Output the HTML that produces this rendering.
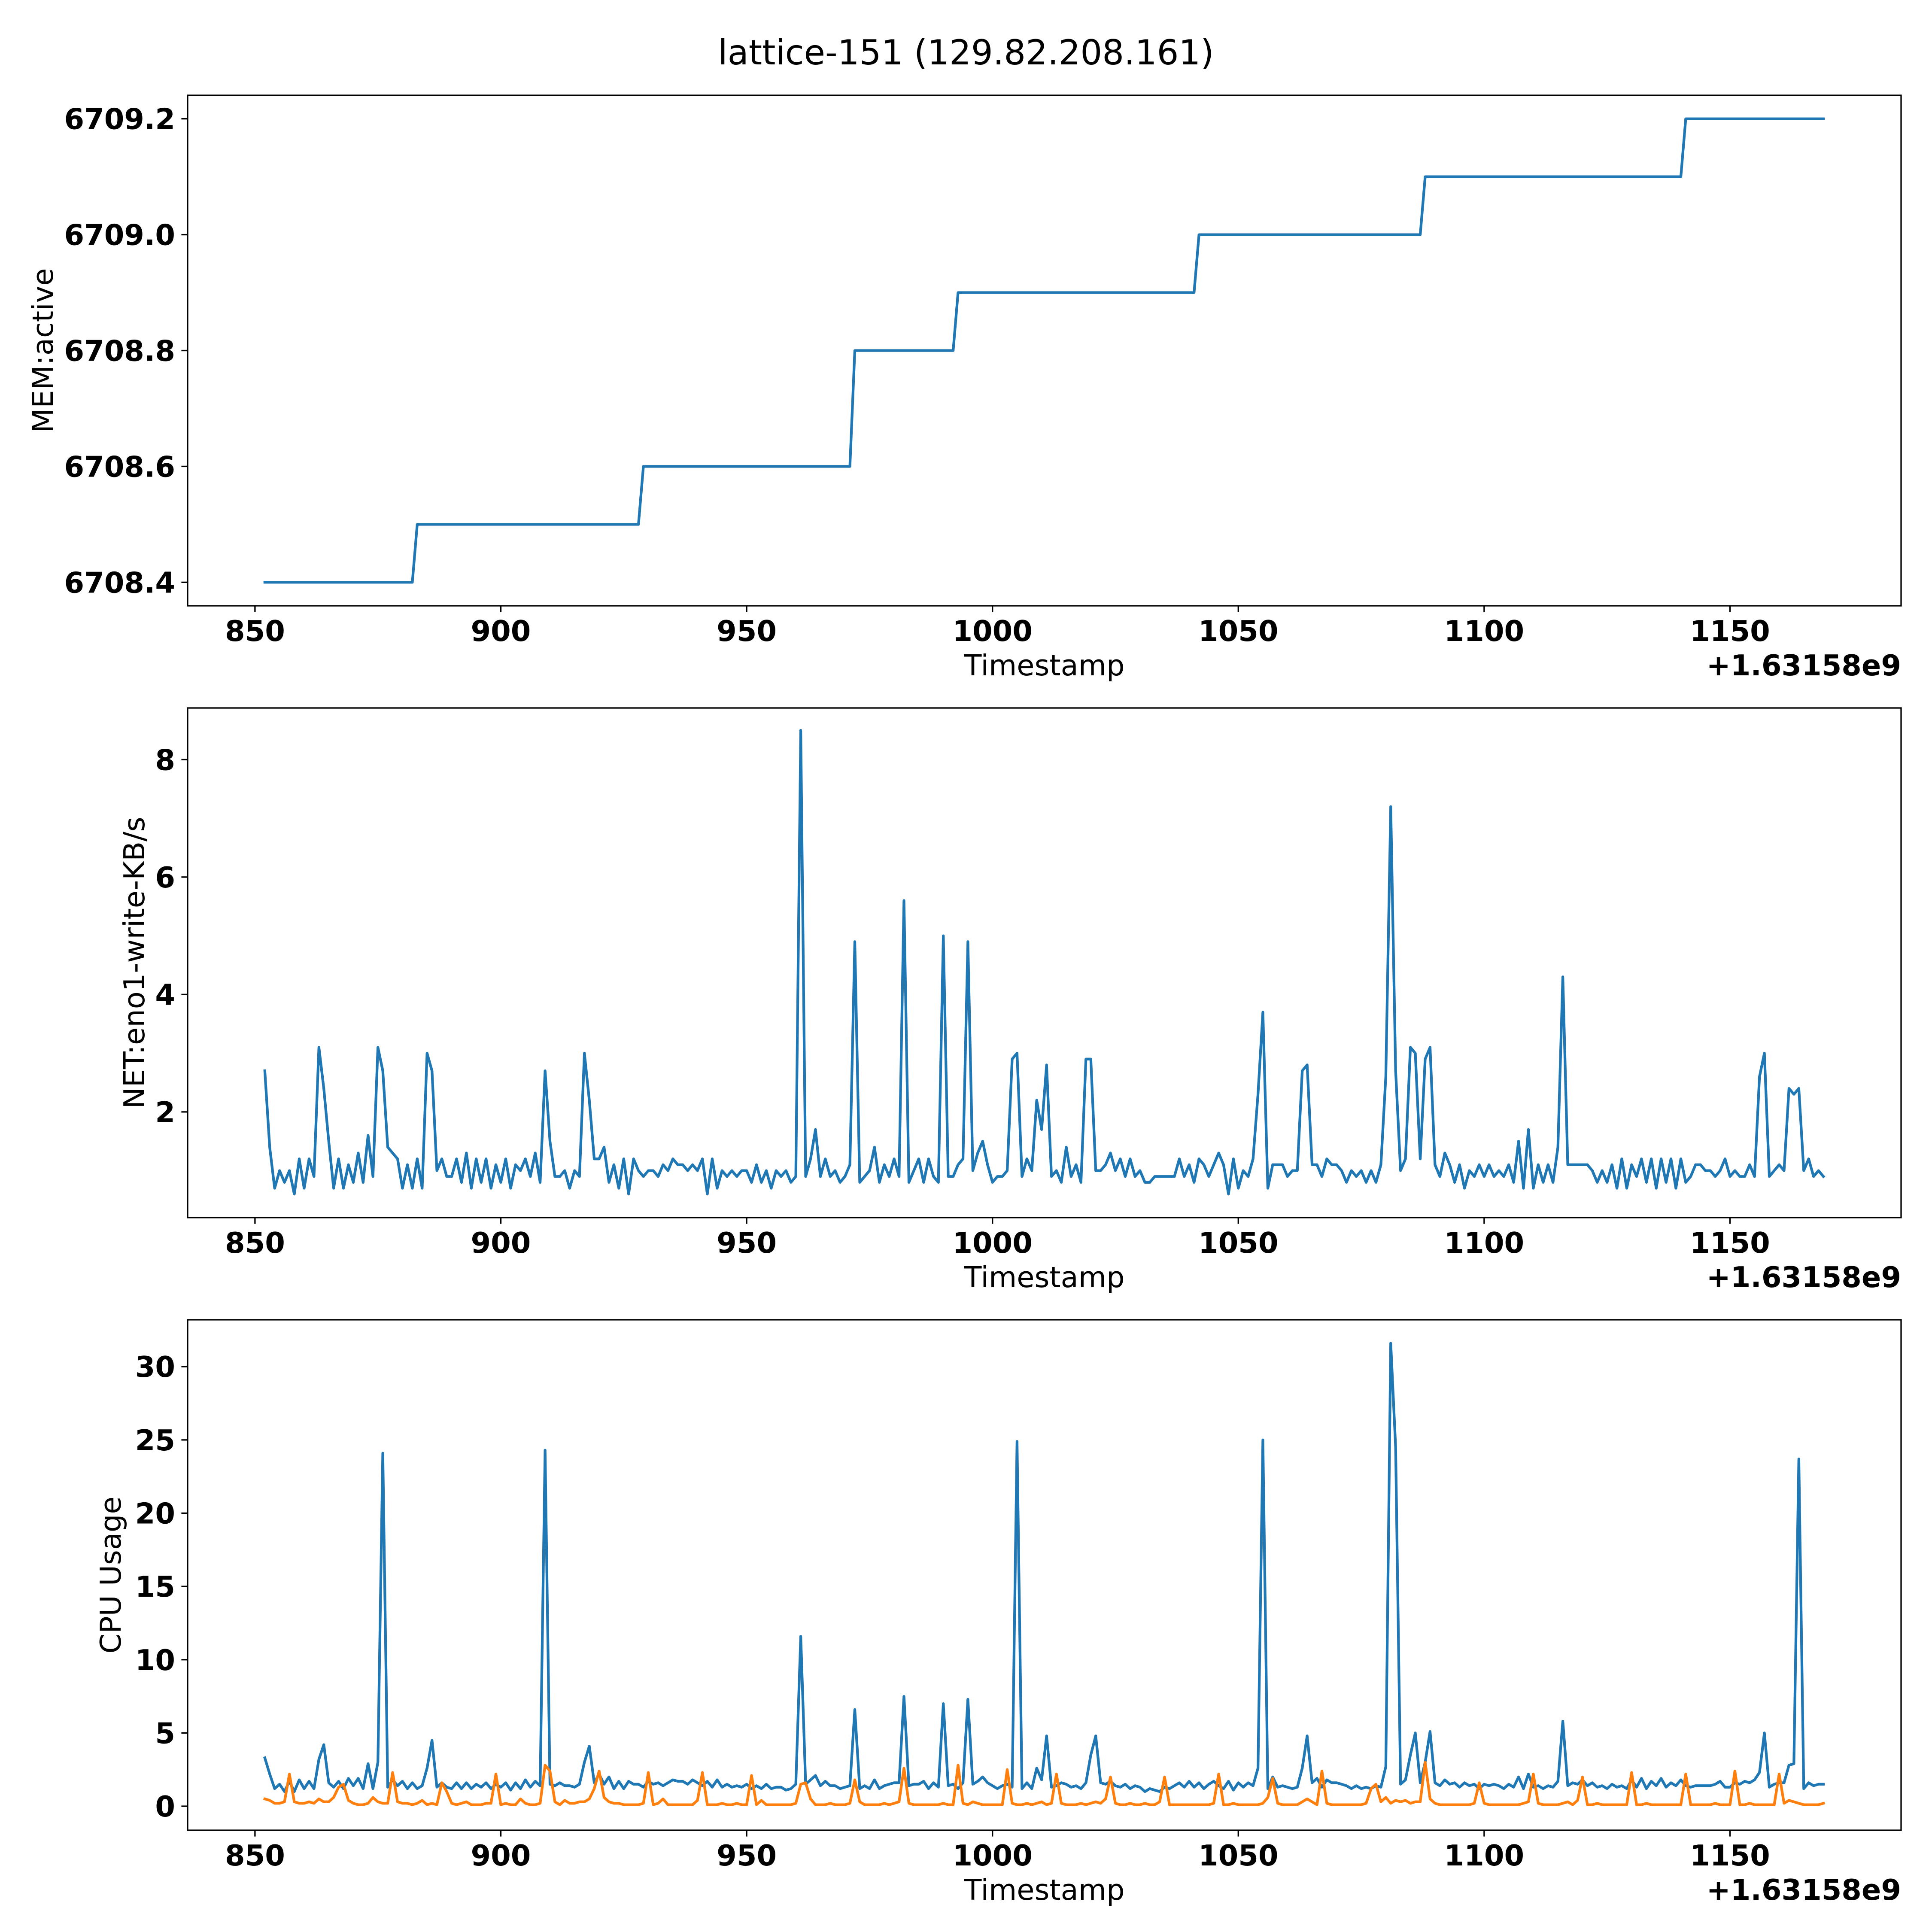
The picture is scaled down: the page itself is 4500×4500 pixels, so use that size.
<!DOCTYPE html>
<html><head><meta charset="utf-8"><style>
html,body{margin:0;padding:0;background:#fff;}
svg{display:block;font-family:"DejaVu Sans","Liberation Sans",sans-serif;}
</style></head><body>
<svg id="fig" width="4500" height="4500" viewBox="0 0 4500 4500" xmlns="http://www.w3.org/2000/svg">
<rect width="4500" height="4500" fill="#fff"/>
<text x="2250" y="150" font-size="80" text-anchor="middle">lattice-151 (129.82.208.161)</text>
</svg>
<script>
// ---- data ----
const memTimes = [852,882,883,928,929,971,972,992,993,1041,1042,1087,1088,1140,1141,1169];
const memValues = [6708.4,6708.4,6708.5,6708.5,6708.6,6708.6,6708.8,6708.8,6708.9,6708.9,6709.0,6709.0,6709.1,6709.1,6709.2,6709.2];
const startTime = 852;
const netValues = [2.7,1.4,0.7,1.0,0.8,1.0,0.6,1.2,0.7,1.2,
0.9,3.1,2.4,1.5,0.7,1.2,0.7,1.1,0.8,1.3,
0.8,1.6,0.9,3.1,2.7,1.4,1.3,1.2,0.7,1.1,
0.7,1.2,0.7,3.0,2.7,1.0,1.2,0.9,0.9,1.2,
0.8,1.3,0.7,1.2,0.8,1.2,0.7,1.1,0.8,1.2,
0.7,1.1,1.0,1.2,0.9,1.3,0.8,2.7,1.5,0.9,
0.9,1.0,0.7,1.0,0.9,3.0,2.2,1.2,1.2,1.4,
0.8,1.1,0.7,1.2,0.6,1.2,1.0,0.9,1.0,1.0,
0.9,1.1,1.0,1.2,1.1,1.1,1.0,1.1,1.0,1.2,
0.6,1.2,0.7,1.0,0.9,1.0,0.9,1.0,1.0,0.8,
1.1,0.8,1.0,0.7,1.0,0.9,1.0,0.8,0.9,8.5,
0.9,1.2,1.7,0.9,1.2,0.9,1.0,0.8,0.9,1.1,
4.9,0.8,0.9,1.0,1.4,0.8,1.1,0.9,1.2,0.9,
5.6,0.8,1.0,1.2,0.8,1.2,0.9,0.8,5.0,0.9,
0.9,1.1,1.2,4.9,1.0,1.3,1.5,1.1,0.8,0.9,
0.9,1.0,2.9,3.0,0.9,1.2,1.0,2.2,1.7,2.8,
0.9,1.0,0.8,1.4,0.9,1.1,0.8,2.9,2.9,1.0,
1.0,1.1,1.3,1.0,1.2,0.9,1.2,0.9,1.0,0.8,
0.8,0.9,0.9,0.9,0.9,0.9,1.2,0.9,1.1,0.8,
1.2,1.1,0.9,1.1,1.3,1.1,0.6,1.2,0.7,1.0,
0.9,1.2,2.3,3.7,0.7,1.1,1.1,1.1,0.9,1.0,
1.0,2.7,2.8,1.1,1.1,0.9,1.2,1.1,1.1,1.0,
0.8,1.0,0.9,1.0,0.8,1.0,0.8,1.1,2.6,7.2,
2.7,1.0,1.2,3.1,3.0,1.2,2.9,3.1,1.1,0.9,
1.3,1.1,0.8,1.1,0.7,1.0,0.9,1.1,0.9,1.1,
0.9,1.0,0.9,1.1,0.8,1.5,0.7,1.7,0.7,1.1,
0.8,1.1,0.8,1.4,4.3,1.1,1.1,1.1,1.1,1.1,
1.0,0.8,1.0,0.8,1.1,0.7,1.2,0.7,1.1,0.9,
1.2,0.8,1.2,0.7,1.2,0.8,1.2,0.7,1.2,0.8,
0.9,1.1,1.1,1.0,1.0,0.9,1.0,1.2,0.9,1.0,
0.9,0.9,1.1,0.9,2.6,3.0,0.9,1.0,1.1,1.0,
2.4,2.3,2.4,1.0,1.2,0.9,1.0,0.9];
const cpuValues = [3.3,2.2,1.2,1.5,1.0,1.7,1.0,1.8,1.2,1.7,
1.2,3.2,4.2,1.6,1.3,1.7,1.2,1.9,1.4,1.9,
1.2,2.9,1.2,3.0,24.1,1.3,1.8,1.4,1.7,1.2,
1.6,1.2,1.4,2.6,4.5,1.3,1.6,1.3,1.2,1.6,
1.2,1.6,1.2,1.5,1.3,1.6,1.2,1.5,1.3,1.6,
1.1,1.6,1.2,1.8,1.3,1.7,1.4,24.3,1.5,1.4,
1.6,1.4,1.4,1.3,1.5,3.0,4.1,1.6,2.2,1.5,
2.0,1.2,1.7,1.2,1.7,1.5,1.5,1.3,1.7,1.5,
1.6,1.4,1.6,1.8,1.7,1.7,1.5,1.8,1.6,1.4,
1.7,1.3,1.8,1.3,1.5,1.3,1.4,1.3,1.5,1.2,
1.4,1.2,1.5,1.2,1.3,1.3,1.1,1.2,1.5,11.6,
1.5,1.8,2.1,1.4,1.7,1.4,1.4,1.2,1.3,1.4,
6.6,1.2,1.4,1.2,1.8,1.2,1.4,1.5,1.6,1.6,
7.5,1.4,1.5,1.5,1.7,1.2,1.6,1.3,7.0,1.4,
1.5,1.2,1.6,7.3,1.5,1.7,2.0,1.6,1.4,1.2,
1.4,1.5,1.3,24.9,1.2,1.6,1.2,2.6,1.8,4.8,
1.3,1.4,1.6,1.5,1.3,1.4,1.2,1.6,3.5,4.8,
1.6,1.5,1.7,1.4,1.3,1.5,1.2,1.4,1.3,1.0,
1.2,1.1,1.0,1.3,1.2,1.4,1.6,1.3,1.7,1.3,
1.6,1.2,1.5,1.7,1.4,1.2,1.7,1.1,1.6,1.3,
1.6,1.4,2.6,25.0,1.2,2.0,1.3,1.4,1.3,1.2,
1.3,2.6,4.8,1.6,1.9,1.3,1.8,1.6,1.6,1.5,
1.4,1.2,1.4,1.2,1.3,1.2,1.4,1.3,2.7,31.6,
24.5,1.5,1.8,3.5,5.0,1.6,3.0,5.1,1.6,1.4,
1.8,1.5,1.6,1.3,1.6,1.4,1.5,1.2,1.5,1.4,
1.5,1.4,1.2,1.5,1.3,2.0,1.2,2.2,1.3,1.4,
1.2,1.4,1.3,1.7,5.8,1.4,1.6,1.5,1.8,1.4,
1.6,1.3,1.4,1.2,1.5,1.3,1.4,1.2,1.8,1.3,
1.9,1.2,1.7,1.4,1.9,1.3,1.6,1.4,1.8,1.4,
1.3,1.4,1.4,1.4,1.4,1.5,1.7,1.3,1.3,1.6,
1.5,1.7,1.6,1.8,2.3,5.0,1.3,1.5,1.6,1.6,
2.8,2.9,23.7,1.2,1.6,1.4,1.5,1.5];
const cpuSecondValues = [0.5,0.4,0.2,0.2,0.3,2.2,0.3,0.2,0.2,0.3,
0.2,0.5,0.3,0.3,0.6,1.3,1.5,0.4,0.2,0.1,
0.1,0.2,0.6,0.3,0.2,0.2,2.3,0.3,0.2,0.2,
0.1,0.2,0.4,0.1,0.2,0.1,1.6,1.0,0.2,0.1,
0.2,0.3,0.1,0.1,0.1,0.2,0.2,2.2,0.1,0.2,
0.1,0.1,0.5,0.2,0.1,0.1,0.2,2.8,2.4,0.3,
0.1,0.4,0.2,0.2,0.3,0.3,0.5,1.2,2.4,0.6,
0.3,0.2,0.2,0.1,0.1,0.1,0.1,0.2,2.3,0.1,
0.2,0.5,0.1,0.1,0.1,0.1,0.1,0.1,0.4,2.3,
0.1,0.1,0.1,0.2,0.1,0.1,0.2,0.1,0.1,2.1,
0.1,0.4,0.1,0.1,0.1,0.1,0.1,0.1,0.2,1.5,
1.6,0.5,0.1,0.1,0.1,0.2,0.1,0.1,0.1,0.2,
1.8,0.3,0.1,0.1,0.1,0.1,0.2,0.1,0.2,0.3,
2.6,0.2,0.1,0.1,0.1,0.1,0.1,0.1,0.2,0.1,
0.1,2.8,0.2,0.1,0.3,0.2,0.1,0.1,0.1,0.1,
0.1,2.5,0.2,0.1,0.1,0.2,0.1,0.2,0.3,0.1,
0.2,2.2,0.2,0.1,0.1,0.1,0.2,0.1,0.2,0.3,
0.2,0.5,2.0,0.2,0.1,0.1,0.2,0.1,0.1,0.2,
0.1,0.1,0.3,2.0,0.1,0.1,0.1,0.1,0.1,0.1,
0.1,0.1,0.1,0.2,2.2,0.1,0.1,0.2,0.1,0.1,
0.1,0.1,0.1,0.2,0.6,1.9,0.2,0.1,0.1,0.1,
0.1,0.3,0.5,0.3,0.1,2.4,0.2,0.1,0.1,0.1,
0.1,0.1,0.1,0.1,0.2,1.2,1.5,0.3,0.6,0.2,
0.4,0.3,0.4,0.2,0.3,0.3,3.0,0.5,0.2,0.1,
0.1,0.1,0.1,0.1,0.1,0.1,0.2,1.6,0.2,0.1,
0.1,0.1,0.1,0.1,0.1,0.1,0.2,0.3,2.2,0.2,
0.1,0.1,0.1,0.1,0.2,0.3,0.1,0.4,2.0,0.1,
0.1,0.2,0.1,0.1,0.1,0.1,0.1,0.1,2.3,0.1,
0.1,0.2,0.1,0.1,0.1,0.1,0.1,0.1,0.1,2.2,
0.1,0.1,0.1,0.1,0.1,0.2,0.1,0.1,0.1,2.4,
0.1,0.1,0.2,0.1,0.1,0.1,0.1,0.1,2.2,0.2,
0.4,0.3,0.2,0.1,0.1,0.1,0.1,0.2];
const xTickValues = [850,900,950,1000,1050,1100,1150];
const memTickValues = [6708.4,6708.6,6708.8,6709.0,6709.2];
const memTickLabels = ["6708.4","6708.6","6708.8","6709.0","6709.2"];
const netTickValues = [2,4,6,8];
const cpuTickValues = [0,5,10,15,20,25,30];

// ---- layout ----
const NS = "http://www.w3.org/2000/svg";
const svg = document.getElementById('fig');
const L = 437, R = 4428;
const xMin = 836.3, xMax = 1184.8;
function xs(v){ return L + (v - xMin) / (xMax - xMin) * (R - L); }
function mk(tag, attrs, parent){
  const e = document.createElementNS(NS, tag);
  for (const k in attrs) e.setAttribute(k, attrs[k]);
  (parent || svg).appendChild(e);
  return e;
}
const panels = [
  {top:222, bottom:1411, yMin:6708.3595, yMax:6709.2405, ylabel:'MEM:active', ylabelX:100, name:'mem'},
  {top:1649, bottom:2836, yMin:0.2, yMax:8.88, ylabel:'NET:eno1-write-KB/s', ylabelX:313, name:'net'},
  {top:3074, bottom:4263, yMin:-1.64, yMax:33.2, ylabel:'CPU Usage', ylabelX:258, name:'cpu'}
];
panels.forEach(p => { p.ys = v => p.bottom - (v - p.yMin) / (p.yMax - p.yMin) * (p.bottom - p.top); });

function drawAxes(p, yTicks, yLabels){
  const g = mk('g', {});
  
  
  xTickValues.forEach(t => {
    const x = xs(t);
    const tk = mk('line', {x1:x, x2:x, y1:p.bottom, y2:p.bottom+14.6, stroke:'#000','stroke-width':3.3}, g);
    
    
    const tx = mk('text', {x:x, y:p.bottom+82, 'font-size':67, 'font-weight':'bold', 'text-anchor':'middle'}, g);
    
    
    tx.textContent = String(t);
  });
  yTicks.forEach((t, i) => {
    const y = p.ys(t);
    const tk = mk('line', {x1:L-14.6, x2:L, y1:y, y2:y, stroke:'#000','stroke-width':3.3}, g);
    
    
    const tx = mk('text', {x:L-29, y:y+24, 'font-size':67, 'font-weight':'bold', 'text-anchor':'end'}, g);
    
    
    tx.textContent = yLabels ? yLabels[i] : String(t);
  });
  const xl = mk('text', {x:(L+R)/2, y:p.bottom+162, 'font-size':67, 'text-anchor':'middle'}, g);
  
  
  xl.textContent = 'Timestamp';
  const off = mk('text', {x:R, y:p.bottom+162, 'font-size':67, 'font-weight':'bold', 'text-anchor':'end'}, g);
  
  
  off.textContent = '+1.63158e9';
  const cy = (p.top + p.bottom) / 2;
  const yl = mk('text', {x:p.ylabelX, y:cy, 'font-size':67, 'text-anchor':'middle', transform:'rotate(-90 '+p.ylabelX+' '+cy+')', 'dominant-baseline':'central'}, g);
  
  
  yl.textContent = p.ylabel;
}
function drawFrame(p){
  const r = mk('rect', {x:L, y:p.top, width:R-L, height:p.bottom-p.top, fill:'none', stroke:'#000', 'stroke-width':3.3});
  
  
}
function drawLine(p, xsArr, vals, color, name){
  const pts = vals.map((v, i) => xs(xsArr[i]).toFixed(1) + ',' + p.ys(v).toFixed(1)).join(' ');
  const pl = mk('polyline', {points:pts, fill:'none', stroke:color, 'stroke-width':6.25, 'stroke-linejoin':'round', 'stroke-linecap':'square'});
  
  
}
const seqTimes = netValues.map((_, i) => startTime + i);
const cpuTimes = cpuValues.map((_, i) => startTime + i);
const cpu2Times = cpuSecondValues.map((_, i) => startTime + i);

drawAxes(panels[0], memTickValues, memTickLabels);
drawLine(panels[0], memTimes, memValues, '#1f77b4', 'mem-active-line');
drawFrame(panels[0]);

drawAxes(panels[1], netTickValues);
drawLine(panels[1], seqTimes, netValues, '#1f77b4', 'net-write-line');
drawFrame(panels[1]);

drawAxes(panels[2], cpuTickValues);
drawLine(panels[2], cpuTimes, cpuValues, '#1f77b4', 'cpu-usage-line');
drawLine(panels[2], cpu2Times, cpuSecondValues, '#ff7f0e', 'cpu-usage-secondary-line');
drawFrame(panels[2]);
</script>
</body></html>
